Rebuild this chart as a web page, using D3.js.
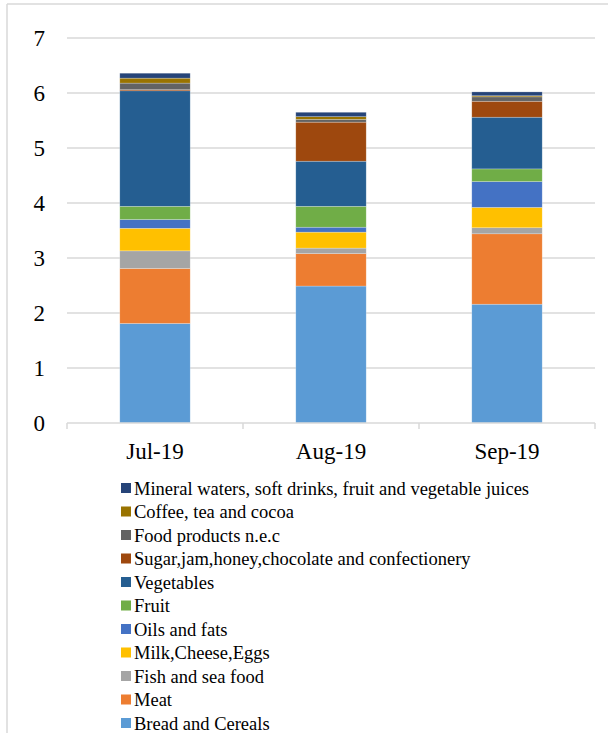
<!DOCTYPE html>
<html>
<head>
<meta charset="utf-8">
<script src="https://cdn.jsdelivr.net/npm/d3@7"></script>
<style>
  body { margin: 0; background: #fff; }
  svg { display: block; font-family: "Liberation Serif", "Times New Roman", serif; }
</style>
</head>
<body>
<svg id="chart"></svg>
<script>
// months on the x axis
const months = ['Jul-19', 'Aug-19', 'Sep-19']

// food groups, bottom of the stack first
const groups = [
  'Bread and Cereals', 'Meat', 'Fish and sea food', 'Milk,Cheese,Eggs',
  'Oils and fats', 'Fruit', 'Vegetables',
  'Sugar,jam,honey,chocolate and confectionery', 'Food products n.e.c',
  'Coffee, tea and cocoa', 'Mineral waters, soft drinks, fruit and vegetable juices'
]
const colors = ['#5b9bd5', '#ed7d31', '#a5a5a5', '#ffc000', '#4472c4', '#70ad47',
  '#255e91', '#9e480e', '#636363', '#997300', '#264478']

// values per group for Jul, Aug, Sep
const bread = [1.81, 2.49, 2.16]
const meat = [1.00, 0.59, 1.28]
const fish = [0.32, 0.10, 0.11]
const milk = [0.41, 0.29, 0.37]
const oils = [0.16, 0.09, 0.47]
const fruit = [0.24, 0.38, 0.23]
const vegetables = [2.10, 0.82, 0.94]
const sugar = [0.02, 0.71, 0.29]
const foodNec = [0.12, 0.05, 0.08]
const coffee = [0.09, 0.05, 0.02]
const mineral = [0.09, 0.08, 0.07]
const yTicks = [0, 1, 2, 3, 4, 5, 6, 7]

const series = [bread, meat, fish, milk, oils, fruit, vegetables, sugar, foodNec, coffee, mineral]
const rows = months.map((m, i) => {
  const r = {month: m}
  groups.forEach((g, j) => { r[g] = series[j][i] })
  return r
})

const width = 608, height = 733
const margin = {top: 38, left: 67, right: 13}
const plotBottom = 423

const svg = d3.select('#chart')
  .attr('width', width)
  .attr('height', height)

// frame of the figure box
svg.append('line').attr('x1', 7).attr('x2', 7).attr('y1', 4).attr('y2', height)
  .attr('stroke', '#d9d9d9').attr('stroke-width', 1.5)
svg.append('line').attr('x1', 7).attr('x2', width).attr('y1', 4).attr('y2', 4)
  .attr('stroke', '#d9d9d9').attr('stroke-width', 1.5)

// title, cut off by the top edge (only descenders show)
svg.append('text')
  .attr('x', 18).attr('y', -4)
  .attr('fill', '#2e75b6')
  .attr('font-weight', 'bold')
  .attr('font-size', 17)
  .text('Figure 2: Contribution of food groups to food inflation (%)')

const xScale = d3.scaleBand()
  .domain(months)
  .range([margin.left, width - margin.right])
  .paddingInner(0.6)
  .paddingOuter(0.3)

const yScale = d3.scaleLinear()
  .domain([0, 7])
  .range([plotBottom, margin.top])

// gridlines
svg.append('g')
  .selectAll('line')
  .data(yTicks.slice(1))
  .enter().append('line')
    .attr('x1', margin.left)
    .attr('x2', width - margin.right)
    .attr('y1', d => yScale(d))
    .attr('y2', d => yScale(d))
    .attr('stroke', '#d9d9d9')
    .attr('stroke-width', 1.5)

// y axis labels
const yAxis = d3.axisLeft(yScale).tickValues(yTicks).tickFormat(d3.format('d'))
  .tickSize(0).tickPadding(22)
const yG = svg.append('g')
  .attr('transform', `translate(${margin.left}, 0)`)
  .call(yAxis)
yG.select('.domain').remove()
yG.selectAll('text')
  .attr('font-family', '"Liberation Serif", serif')
  .attr('font-size', 23)
  .attr('fill', '#000')

// stacked bars
const stack = d3.stack().keys(groups)(rows)
svg.append('g')
  .selectAll('g')
  .data(stack)
  .enter().append('g')
    .attr('fill', (d, i) => colors[i])
  .selectAll('rect')
  .data(d => d)
  .enter().append('rect')
    .attr('x', d => xScale(d.data.month))
    .attr('width', xScale.bandwidth())
    .attr('y', d => yScale(d[1]))
    .attr('height', d => yScale(d[0]) - yScale(d[1]))
    .attr('stroke', '#fff')
    .attr('stroke-opacity', 0.4)
    .attr('stroke-width', 0.6)

// x axis
const step = xScale.step()
const bounds = [0, 1, 2, 3].map(i => margin.left + i * step)
const xG = svg.append('g')
xG.append('line')
  .attr('x1', margin.left).attr('x2', width - margin.right)
  .attr('y1', plotBottom).attr('y2', plotBottom)
  .attr('stroke', '#d9d9d9').attr('stroke-width', 1.5)
xG.selectAll('.tick')
  .data(bounds)
  .enter().append('line')
    .attr('x1', d => d).attr('x2', d => d)
    .attr('y1', plotBottom).attr('y2', plotBottom + 6)
    .attr('stroke', '#d9d9d9').attr('stroke-width', 1.5)
xG.selectAll('.label')
  .data(months)
  .enter().append('text')
    .attr('x', d => xScale(d) + xScale.bandwidth() / 2)
    .attr('y', 459)
    .attr('text-anchor', 'middle')
    .attr('font-size', 23)
    .attr('fill', '#000')
    .text(d => d)

// legend, top entry first
const legendRows = groups.map((g, i) => ({name: g, color: colors[i]})).reverse()
const legend = svg.append('g')
legend.selectAll('rect')
  .data(legendRows)
  .enter().append('rect')
    .attr('x', 121)
    .attr('y', (d, i) => 483 + i * 23.5)
    .attr('width', 10)
    .attr('height', 10)
    .attr('fill', d => d.color)
legend.selectAll('text')
  .data(legendRows)
  .enter().append('text')
    .attr('x', 134)
    .attr('y', (d, i) => 494.5 + i * 23.5)
    .attr('font-size', 18.5)
    .attr('fill', '#000')
    .text(d => d.name)
</script>
</body>
</html>
